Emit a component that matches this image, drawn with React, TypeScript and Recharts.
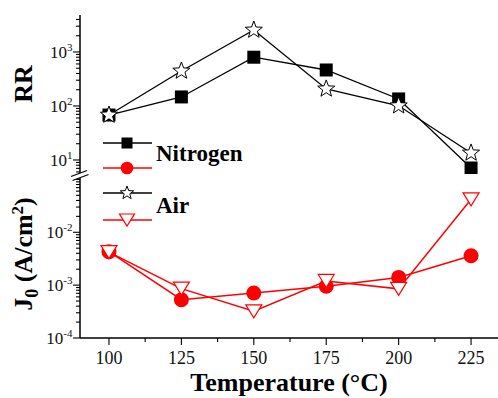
import React from 'react';
import { LineChart, Line, XAxis, YAxis } from 'recharts';

const SERIF = '"Liberation Serif", "Times New Roman", serif';

// Temperature (°C) on the shared x axis
const temperatures = [100, 125, 150, 175, 200, 225];
const tempLabels = [100, 125, 150, 175, 200, 225];
const tempMinor = [112.5, 137.5, 162.5, 187.5, 212.5];

// RR (upper panel)
const rrNitrogen = [68, 147, 800, 464, 135, 7.1];
const rrAir = [68, 445, 2550, 207, 101, 13.5];
const rrLabels = [10, 100, 1000];

// J0 in A/cm² (lower panel)
const j0Nitrogen = [4.3e-3, 5.3e-4, 7.1e-4, 9.5e-4, 1.4e-3, 3.6e-3];
const j0Air = [4.2e-3, 8.6e-4, 3.2e-4, 1.2e-3, 8.5e-4, 4.2e-2];
const j0Labels = [1e-4, 1e-3, 1e-2];

const xDomain = [90, 234.3];
const rrDomain = [5.5, 4840];
const j0Domain = [1e-4, 0.116];

const RED = '#ff0000';

// log ticks m·10^e that fall inside [lo, hi]
const logTicks = (lo: number, hi: number) => {
  const out: number[] = [];
  for (let e = Math.floor(Math.log10(lo)); e <= Math.ceil(Math.log10(hi)); e++) {
    for (let m = 1; m <= 9; m++) {
      const v = Number((m * Math.pow(10, e)).toPrecision(6));
      if (v >= lo && v <= hi) out.push(v);
    }
  }
  return out;
};

const rrTicks = logTicks(rrDomain[0], rrDomain[1]);
const j0Ticks = logTicks(j0Domain[0], j0Domain[1]);
const tempTicks = [...tempLabels, ...tempMinor].sort((a, b) => a - b);

const rrData = temperatures.map((t, i) => ({ t, n: rrNitrogen[i], a: rrAir[i] }));
const j0Data = temperatures.map((t, i) => ({ t, n: j0Nitrogen[i], a: j0Air[i] }));

const isDecade = (v: number) => {
  const l = Math.log10(v);
  return Math.abs(l - Math.round(l)) < 1e-6;
};

const LeftLogTick = (props: any) => {
  const { x, y, payload, labels } = props;
  const v = payload.value;
  const major = isDecade(v);
  const showLabel = labels.some((l: number) => Math.abs(l - v) / l < 1e-6);
  return (
    <g>
      <line x1={x} x2={x - (major ? 7 : 4)} y1={y} y2={y} stroke="#000" strokeWidth={1.1} />
      {showLabel && (
        <text x={x - 7.5} y={y + 6} textAnchor="end" fontFamily={SERIF} fontSize={17} fill="#111">
          10
          <tspan dy={-7} fontSize={11}>
            {Math.round(Math.log10(v))}
          </tspan>
        </text>
      )}
    </g>
  );
};

const RightLogTick = (props: any) => {
  const { x, y, payload } = props;
  const major = isDecade(payload.value);
  return <line x1={x} x2={x - (major ? 7 : 4)} y1={y} y2={y} stroke="#000" strokeWidth={1.1} />;
};

const TopTempTick = (props: any) => {
  const { x, y, payload } = props;
  const major = tempLabels.includes(payload.value);
  return <line x1={x} x2={x} y1={y} y2={y + (major ? 7 : 4)} stroke="#000" strokeWidth={1.1} />;
};

const BottomTempTick = (props: any) => {
  const { x, y, payload } = props;
  const major = tempLabels.includes(payload.value);
  return (
    <g>
      <line x1={x} x2={x} y1={y} y2={y + (major ? 7 : 4)} stroke="#000" strokeWidth={1.1} />
      {major && (
        <text x={x} y={y + 26} textAnchor="middle" fontFamily={SERIF} fontSize={18} fill="#111">
          {payload.value}
        </text>
      )}
    </g>
  );
};

const starPath = (cx: number, cy: number, R: number, r: number) => {
  const pts: string[] = [];
  for (let k = 0; k < 10; k++) {
    const rad = k % 2 === 0 ? R : r;
    const ang = ((-90 + k * 36) * Math.PI) / 180;
    pts.push(`${(cx + rad * Math.cos(ang)).toFixed(2)},${(cy + rad * Math.sin(ang)).toFixed(2)}`);
  }
  return `M${pts.join('L')}Z`;
};

const Square = ({ cx, cy, s }: { cx: number; cy: number; s: number }) => (
  <rect x={cx - s / 2} y={cy - s / 2} width={s} height={s} fill="#000" />
);
const Star = ({ cx, cy, R }: { cx: number; cy: number; R: number }) => (
  <path d={starPath(cx, cy, R, R * 0.42)} fill="#fff" stroke="#000" strokeWidth={1} />
);
const Dot = ({ cx, cy, r }: { cx: number; cy: number; r: number }) => (
  <circle cx={cx} cy={cy} r={r} fill={RED} />
);
const TriDown = ({ cx, cy, w, h }: { cx: number; cy: number; w: number; h: number }) => (
  <path
    d={`M${cx - w / 2},${cy - h / 2}L${cx + w / 2},${cy - h / 2}L${cx},${cy + h / 2}Z`}
    fill="#fff"
    stroke={RED}
    strokeWidth={1.2}
  />
);

const axisLine = { stroke: '#000', strokeWidth: 1.5 };

const App = () => {
  return (
    <div style={{ position: 'absolute', left: 0, top: 0, width: 498, height: 398, background: '#fff' }}>
      {/* upper panel: RR */}
      <div style={{ position: 'absolute', left: 0, top: 0 }}>
        <LineChart width={498} height={176} data={rrData} margin={{ top: 15, right: 0, bottom: 2, left: 0 }}>
          <XAxis
            dataKey="t"
            type="number"
            orientation="top"
            height={0}
            domain={xDomain}
            allowDataOverflow
            ticks={tempTicks}
            interval={0}
            tickSize={0}
            tickMargin={0}
            tickLine={false}
            axisLine={axisLine}
            tick={<TopTempTick />}
          />
          <YAxis
            yAxisId="l"
            scale="log"
            type="number"
            width={80}
            domain={rrDomain}
            allowDataOverflow
            ticks={rrTicks}
            interval={0}
            tickSize={0}
            tickMargin={0}
            tickLine={false}
            axisLine={axisLine}
            tick={<LeftLogTick labels={rrLabels} />}
          />
          <YAxis
            yAxisId="r"
            orientation="right"
            scale="log"
            type="number"
            width={0}
            domain={rrDomain}
            allowDataOverflow
            ticks={rrTicks}
            interval={0}
            tickSize={0}
            tickMargin={0}
            tickLine={false}
            axisLine={false}
            tick={<RightLogTick />}
          />
          <Line
            yAxisId="l"
            dataKey="n"
            stroke="#000"
            strokeWidth={1.3}
            isAnimationActive={false}
            dot={(p: any) => <Square key={`n${p.index}`} cx={p.cx} cy={p.cy} s={13} />}
          />
          <Line
            yAxisId="l"
            dataKey="a"
            stroke="#000"
            strokeWidth={1.3}
            isAnimationActive={false}
            dot={(p: any) => <Star key={`a${p.index}`} cx={p.cx} cy={p.cy} R={9} />}
          />
        </LineChart>
      </div>

      {/* lower panel: J0 */}
      <div style={{ position: 'absolute', left: 0, top: 176 }}>
        <LineChart width={498} height={222} data={j0Data} margin={{ top: 0, right: 0, bottom: 0, left: 0 }}>
          <XAxis
            dataKey="t"
            type="number"
            height={60}
            domain={xDomain}
            allowDataOverflow
            ticks={tempTicks}
            interval={0}
            tickSize={0}
            tickMargin={0}
            tickLine={false}
            axisLine={axisLine}
            tick={<BottomTempTick />}
          />
          <YAxis
            yAxisId="l"
            scale="log"
            type="number"
            width={80}
            domain={j0Domain}
            allowDataOverflow
            ticks={j0Ticks}
            interval={0}
            tickSize={0}
            tickMargin={0}
            tickLine={false}
            axisLine={axisLine}
            tick={<LeftLogTick labels={j0Labels} />}
          />
          <YAxis
            yAxisId="r"
            orientation="right"
            scale="log"
            type="number"
            width={0}
            domain={j0Domain}
            allowDataOverflow
            ticks={j0Ticks}
            interval={0}
            tickSize={0}
            tickMargin={0}
            tickLine={false}
            axisLine={false}
            tick={<RightLogTick />}
          />
          <Line
            yAxisId="l"
            dataKey="n"
            stroke={RED}
            strokeWidth={1.5}
            isAnimationActive={false}
            dot={(p: any) => <Dot key={`n${p.index}`} cx={p.cx} cy={p.cy} r={7.5} />}
          />
          <Line
            yAxisId="l"
            dataKey="a"
            stroke={RED}
            strokeWidth={1.5}
            isAnimationActive={false}
            dot={(p: any) => <TriDown key={`a${p.index}`} cx={p.cx} cy={p.cy} w={16} h={13} />}
          />
        </LineChart>
      </div>

      {/* titles, legend, axis break */}
      <svg
        width={498}
        height={398}
        style={{ position: 'absolute', left: 0, top: 0, pointerEvents: 'none' }}
      >
        <path d="M71,176.5 L87,170.5 L88.5,174.5 L72.5,180.5 Z" fill="#fff" />
        <line x1={71} y1={176.5} x2={87} y2={170.5} stroke="#000" strokeWidth={1.2} />
        <line x1={72.5} y1={180.5} x2={88.5} y2={174.5} stroke="#000" strokeWidth={1.2} />

        <text
          transform="translate(32, 84) rotate(-90)"
          textAnchor="middle"
          fontFamily={SERIF}
          fontWeight="bold"
          fontSize={26}
          fill="#000"
        >
          RR
        </text>
        <text
          transform="translate(32, 254) rotate(-90)"
          textAnchor="middle"
          fontFamily={SERIF}
          fontWeight="bold"
          fontSize={26}
          fill="#000"
        >
          J
          <tspan dy={6} fontSize={18}>0</tspan>
          <tspan dy={-6}> (A/cm</tspan>
          <tspan dy={-9} fontSize={17}>2</tspan>
          <tspan dy={9}>)</tspan>
        </text>
        <text x={289} y={391} textAnchor="middle" fontFamily={SERIF} fontWeight="bold" fontSize={26} fill="#000">
          Temperature (°C)
        </text>

        <line x1={103} x2={152} y1={143} y2={143} stroke="#000" strokeWidth={1.5} />
        <Square cx={127} cy={143} s={11} />
        <line x1={103} x2={152} y1={168} y2={168} stroke={RED} strokeWidth={1.5} />
        <Dot cx={127} cy={168} r={6.3} />
        <line x1={103} x2={152} y1={193} y2={193} stroke="#000" strokeWidth={1.5} />
        <Star cx={127} cy={193} R={7} />
        <line x1={103} x2={152} y1={220} y2={220} stroke={RED} strokeWidth={1.5} />
        <TriDown cx={127} cy={220} w={15} h={12} />
        <text x={156} y={161} fontFamily={SERIF} fontWeight="bold" fontSize={23} fill="#000">
          Nitrogen
        </text>
        <text x={156} y={213} fontFamily={SERIF} fontWeight="bold" fontSize={23} fill="#000">
          Air
        </text>
      </svg>
    </div>
  );
};

export default App;
